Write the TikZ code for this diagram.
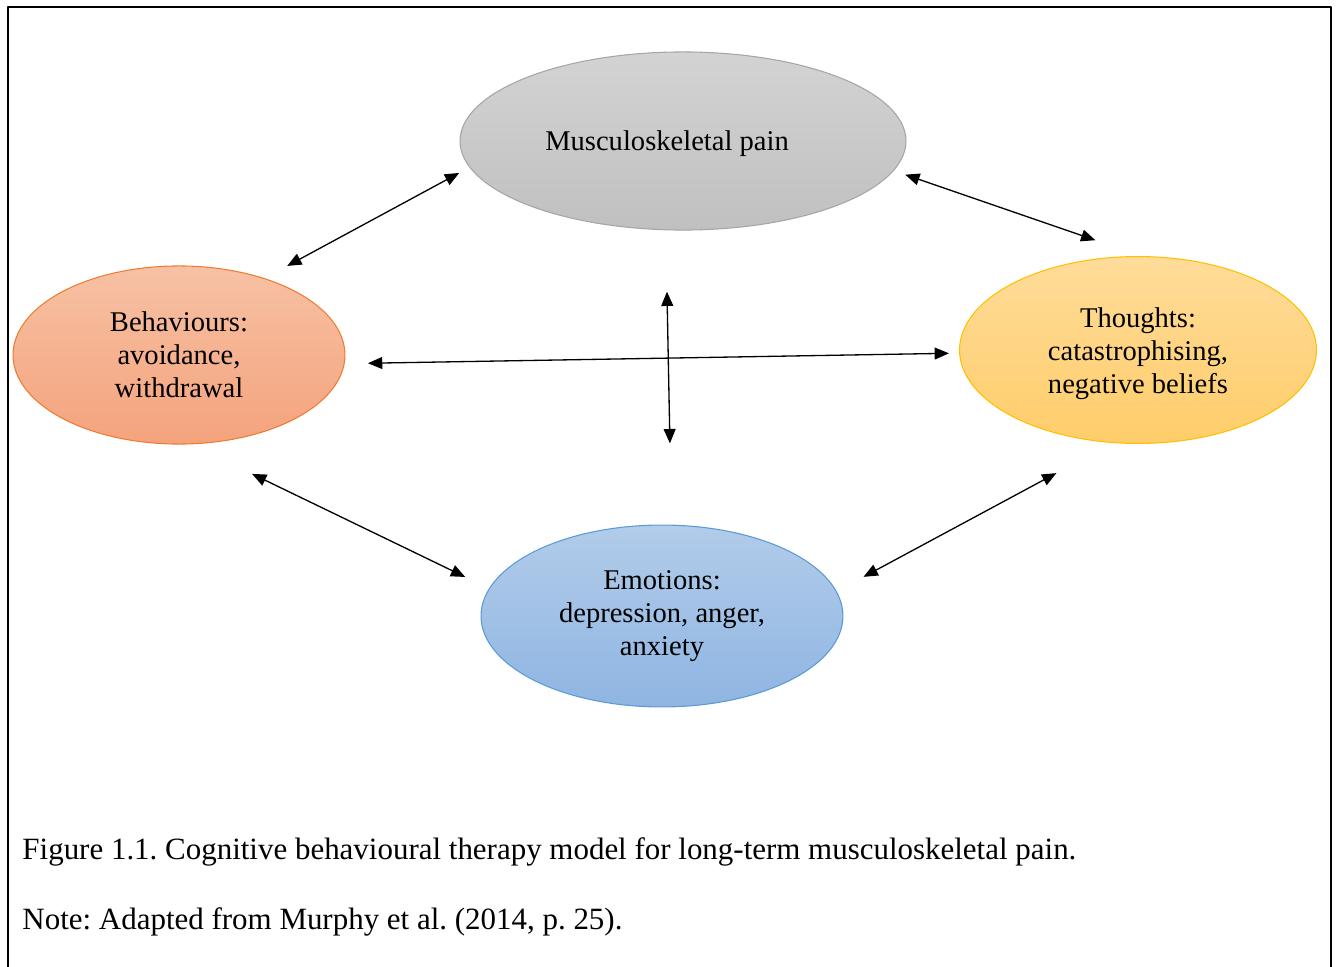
\documentclass[tikz,border=0pt]{standalone}
\usepackage{fontspec}
\setmainfont{Liberation Serif}
\usepackage{xcolor}
\usetikzlibrary{arrows.meta, positioning, calc, shapes.geometric}

\definecolor{painline}{HTML}{A6A6A6}
\definecolor{paintop}{HTML}{D3D3D3}
\definecolor{painbot}{HTML}{C0C0C0}
\definecolor{behline}{HTML}{ED7D31}
\definecolor{behtop}{HTML}{F7C1A5}
\definecolor{behbot}{HTML}{F4A37C}
\definecolor{tholine}{HTML}{FFC000}
\definecolor{thotop}{HTML}{FFDC9A}
\definecolor{thobot}{HTML}{FFCD6A}
\definecolor{emoline}{HTML}{5B9BD5}
\definecolor{emotop}{HTML}{B2CCEA}
\definecolor{emobot}{HTML}{8FB5E2}

\begin{document}
\frenchspacing
\begin{tikzpicture}[x=0.42pt, y=-0.42pt, >={Triangle[length=6pt,width=5pt]}, line cap=round, line join=round,
    bubble/.style={ellipse, draw, line width=0.45pt, inner sep=0pt, outer sep=0pt, align=center,
        font=\fontsize{12}{13.9}\selectfont},
    link/.style={<->, line width=0.55pt},
    captext/.style={anchor=west, inner sep=0pt, font=\fontsize{13}{15}\selectfont}]
    \useasboundingbox (0,0) rectangle (1338,967);

    % Frame
    \draw[line width=1pt] (8,990) -- (8,7) -- (1331,7) -- (1331,990);

    % Ellipses
    \node[bubble, draw=painline, top color=paintop, bottom color=painbot,
        minimum width=187.3pt, minimum height=74.8pt] (pain) at (683,141)
        {\raisebox{-1.3pt}[\height][\depth]{\mbox{Musculoskeletal pain\kern13.4pt}}};
    \node[bubble, draw=behline, top color=behtop, bottom color=behbot,
        minimum width=139.4pt, minimum height=74.8pt] (behav) at (179,355) {Behaviours:\\avoidance,\\withdrawal};
    \node[bubble, draw=tholine, top color=thotop, bottom color=thobot,
        minimum width=149.9pt, minimum height=78.5pt] (thought) at (1138,350)
        {\raisebox{-1.7pt}[\height][\depth]{\begin{tabular}{@{}c@{}}Thoughts:\\catastrophising,\\negative beliefs\end{tabular}}};
    \node[bubble, draw=emoline, top color=emotop, bottom color=emobot,
        minimum width=152pt, minimum height=76.4pt] (emotion) at (662,616) {Emotions:\\depression, anger,\\anxiety};

    % Two-way links
    \draw[link, shorten <=11.1pt, shorten >=5.1pt] (behav.42) -- (pain.187);
    \draw[link, shorten <=5.3pt, shorten >=21.1pt] (pain.352) -- (thought.87);
    \draw[link, shorten <=10pt, shorten >=4.5pt] (behav.357) -- (thought.181);
    \draw[link, shorten <=26pt, shorten >=34.4pt] (pain.259) -- (emotion.84);
    \draw[link, shorten <=29pt, shorten >=11.3pt] (behav.277) -- (emotion.171);
    \draw[link, shorten <=13pt, shorten >=27.1pt] (emotion.8) -- (thought.255);

    % Caption
    \node[captext] (caption) at (22,852)
        {Figure 1.1. Cognitive behavioural therapy model for long-term musculoskeletal pain.};
    \node[captext] (note) at (22,922)
        {Note: Adapted from Murphy et al. (2014, p. 25).};
\end{tikzpicture}
\end{document}
